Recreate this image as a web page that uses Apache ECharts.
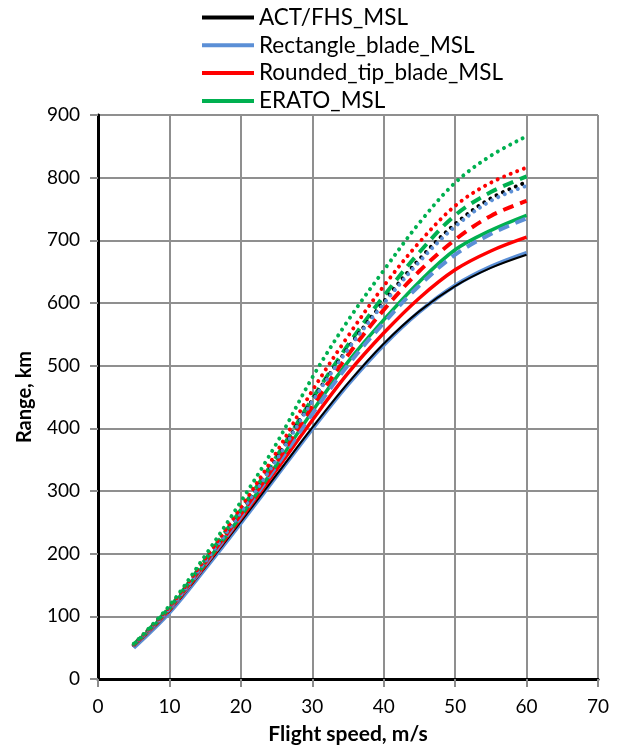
<!DOCTYPE html>
<html><head><meta charset="utf-8">
<script src="https://cdn.jsdelivr.net/npm/echarts@6/dist/echarts.min.js"></script>
<style>html,body{margin:0;padding:0;background:#fff}#c{width:619px;height:747px}</style>
</head><body><div id="c"></div>
<script>
const speeds = [5,10,15,20,25,30,35,40,45,50,55,60];
const xTicks = [0,10,20,30,40,50,60,70];
const yTicks = [0,100,200,300,400,500,600,700,800,900];
const legendNames = ['ACT/FHS_MSL','Rectangle_blade_MSL','Rounded_tip_blade_MSL','ERATO_MSL'];

const actSolid     = [52,108,178,251,326,401,472,535,587,627,656,677];
const rectSolid    = [50,106,176,249,324,399,470,533,586,628,658,680];
const roundSolid   = [53,110,181,256,334,413,488,552,608,653,683,705];
const eratoSolid   = [54,112,184,260,342,427,506,573,634,685,716,740];
const rectDashed   = [53,111,183,259,340,423,501,568,628,677,710,735];
const roundDashed  = [54,112,186,263,346,435,517,589,651,701,739,763];
const eratoDashed  = [55,114,190,270,355,447,533,611,681,740,777,802];
const actDotted    = [54,113,188,267,352,445,528,602,670,726,767,793];
const rectDotted   = [54,112,187,266,350,443,526,599,666,722,763,787];
const roundDotted  = [55,115,192,274,362,460,547,627,697,755,792,816];
const eratoDotted  = [56,117,197,283,376,481,572,652,728,792,835,866];

const C = {black:'#000000', blue:'#5b8fd6', red:'#ff0000', green:'#00b050'};
const DOT = [0.01, 7];
const DASH = [11, 7];

function pairs(vals){ return speeds.map((s,i)=>[s, vals[i]]); }
function ser(name, vals, color, width, type, cap){
  return {name, type:'line', data:pairs(vals), showSymbol:false, smooth:0.35,
    lineStyle:{color, width, type, cap: cap||'butt'}, itemStyle:{color}, z:2, animation:false};
}

const series = [
  ser(legendNames[1], rectSolid, C.blue, 4, 'solid'),
  ser(legendNames[0], actSolid, C.black, 2, 'solid'),
  ser(legendNames[2], roundSolid, C.red, 3.5, 'solid'),
  ser(legendNames[3], eratoSolid, C.green, 3.5, 'solid'),
  ser('Rectangle_blade_dashed', rectDashed, C.blue, 4, DASH),
  ser('Rounded_tip_blade_dashed', roundDashed, C.red, 4, DASH),
  ser('ERATO_dashed', eratoDashed, C.green, 4, DASH),
  ser('ACT/FHS_dotted', actDotted, C.black, 4, DOT, 'round'),
  ser('Rectangle_blade_dotted', rectDotted, C.blue, 4, DOT, 'round'),
  ser('Rounded_tip_blade_dotted', roundDotted, C.red, 4, DOT, 'round'),
  ser('ERATO_dotted', eratoDotted, C.green, 4, DOT, 'round')
];

const font = 'Lato, "Open Sans", sans-serif';
const chart = echarts.init(document.getElementById('c'), null, {renderer:'canvas'});
chart.setOption({
  animation:false,
  backgroundColor:'#fff',
  textStyle:{fontFamily:font},
  legend:{
    data: legendNames.map(n=>({name:n, icon:'rect'})),
    orient:'vertical', left:202, top:6, padding:0,
    itemWidth:52, itemHeight:4, itemGap:4.8,
    textStyle:{fontFamily:font, fontSize:22.5, color:'#000'},
    selectedMode:false
  },
  grid:{left:98, top:115, right:21, bottom:68, containLabel:false, outerBoundsMode:'none'},
  xAxis:[{
    type:'value', min:xTicks[0], max:xTicks[xTicks.length-1], interval:10,
    name:'Flight speed, m/s', nameLocation:'middle', nameGap:45,
    nameTextStyle:{fontFamily:font, fontSize:21, fontWeight:'bold', color:'#000'},
    axisLine:{show:true, onZero:false, lineStyle:{color:'#595959', width:2.5}},
    axisTick:{show:true, inside:false, length:8, lineStyle:{color:'#8c8c8c', width:2}},
    axisLabel:{fontFamily:font, fontSize:19, color:'#000', margin:18},
    splitLine:{show:true, lineStyle:{color:'#8f8f8f', width:2}}
  },{
    type:'value', position:'top', min:0, max:70, interval:10,
    axisLine:{show:true, lineStyle:{color:'#000', width:3}},
    axisTick:{show:false}, axisLabel:{show:false}, splitLine:{show:false}
  }],
  yAxis:[{
    type:'value', min:yTicks[0], max:yTicks[yTicks.length-1], interval:100,
    name:'Range, km', nameLocation:'middle', nameGap:63, nameRotate:90,
    nameTextStyle:{fontFamily:font, fontSize:20, fontWeight:'bold', color:'#000'},
    axisLine:{show:true, onZero:false, lineStyle:{color:'#595959', width:2.5}},
    axisTick:{show:true, inside:false, length:8, lineStyle:{color:'#8c8c8c', width:2}},
    axisLabel:{fontFamily:font, fontSize:19, color:'#000', margin:18},
    splitLine:{show:true, lineStyle:{color:'#8f8f8f', width:2}}
  },{
    type:'value', position:'right', min:0, max:900, interval:100,
    axisLine:{show:true, lineStyle:{color:'#000', width:3}},
    axisTick:{show:false}, axisLabel:{show:false}, splitLine:{show:false}
  }],
  series
});
</script></body></html>
